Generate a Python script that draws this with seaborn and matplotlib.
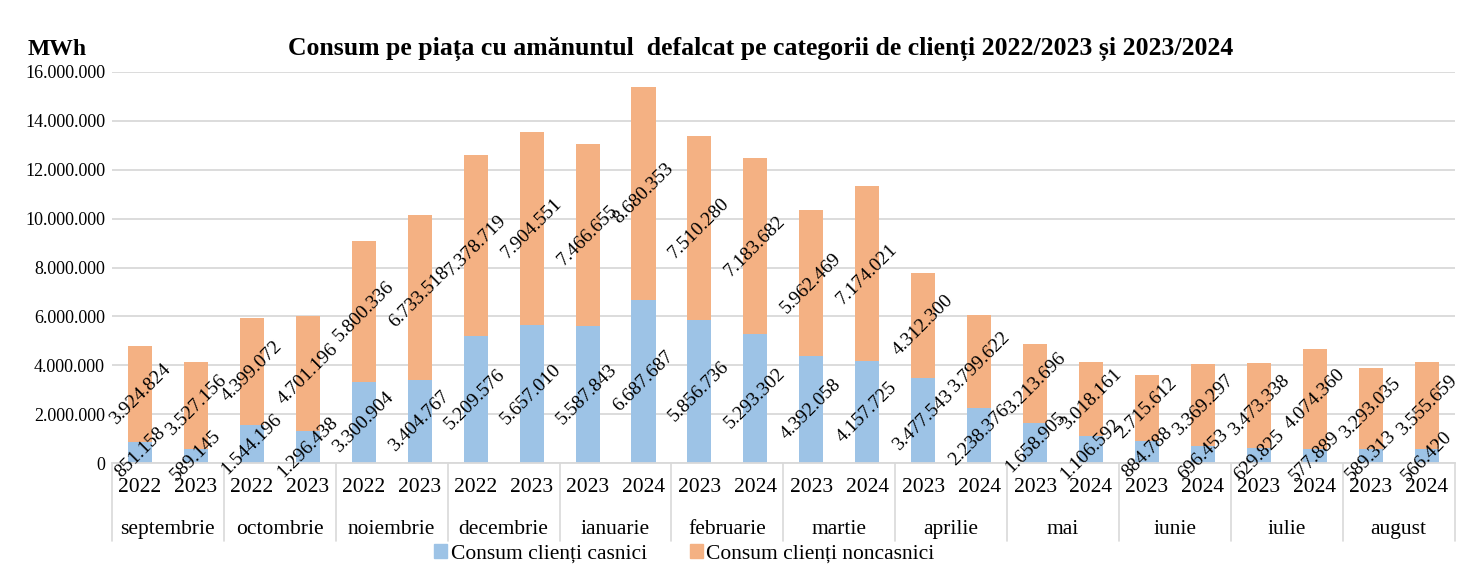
import pandas as pd
import matplotlib.pyplot as plt
import matplotlib.transforms as mtransforms
from matplotlib.patches import Patch
import seaborn as sns

# Data (MWh)
months = ["septembrie", "octombrie", "noiembrie", "decembrie", "ianuarie", "februarie",
          "martie", "aprilie", "mai", "iunie", "iulie", "august"]
years = ["2022", "2023", "2022", "2023", "2022", "2023", "2022", "2023",
         "2023", "2024", "2023", "2024", "2023", "2024", "2023", "2024",
         "2023", "2024", "2023", "2024", "2023", "2024", "2023", "2024"]
casnici = [851158, 589145, 1544196, 1296438, 3300904, 3404767, 5209576, 5657010,
           5587843, 6687687, 5856736, 5293302, 4392058, 4157725, 3477543, 2238376,
           1658905, 1106592, 884788, 696453, 629825, 577889, 589313, 566420]
noncasnici = [3924824, 3527156, 4399072, 4701196, 5800336, 6733518, 7378719, 7904551,
              7466655, 8680353, 7510280, 7183682, 5962469, 7174021, 4312300, 3799622,
              3213696, 3018161, 2715612, 3369297, 3473338, 4074360, 3293035, 3555659]

blue = "#9DC3E6"
orange = "#F4B183"
grid_col = "#D9D9D9"

slots = [f"{months[i // 2]} {years[i]}" for i in range(len(years))]
df = pd.DataFrame({"slot": slots, "casnici": casnici, "noncasnici": noncasnici})
df["total"] = df["casnici"] + df["noncasnici"]

sns.set_theme(style="white")
plt.rcParams["font.family"] = ["Liberation Serif", "DejaVu Serif"]
plt.rcParams["text.color"] = "black"
plt.rcParams["xtick.color"] = "black"
plt.rcParams["ytick.color"] = "black"

fig, ax = plt.subplots(figsize=(14.62, 5.71), dpi=100)
fig.subplots_adjust(left=0.0766, right=0.995, bottom=0.189, top=0.874)

# stacked bars: total in orange, household on top in blue
sns.barplot(data=df, x="slot", y="total", color=orange, saturation=1, width=0.43,
            linewidth=0, ax=ax)
sns.barplot(data=df, x="slot", y="casnici", color=blue, saturation=1, width=0.43,
            linewidth=0, ax=ax)

ax.set_ylim(0, 16_000_000)
ax.set_xlim(-0.5, len(slots) - 0.5)
ax.set_yticks(range(0, 16_000_001, 2_000_000))
ax.set_yticklabels([f"{v:,}".replace(",", ".") for v in range(0, 16_000_001, 2_000_000)],
                   fontsize=13)
ax.yaxis.grid(True, color=grid_col, lw=1.3)
ax.set_axisbelow(True)
for s in ["top", "right", "left"]:
    ax.spines[s].set_visible(False)
ax.spines["bottom"].set_color(grid_col)
ax.spines["bottom"].set_linewidth(1.3)
ax.set_xlabel("")
ax.set_ylabel("")
ax.set_xticks(range(len(slots)))
ax.set_xticklabels(years, fontsize=15.5)
ax.tick_params(axis="x", length=0, pad=11)
ax.tick_params(axis="y", length=0, pad=5)

# month row and group separators
trans = mtransforms.blended_transform_factory(ax.transData, ax.transAxes)
for k, m in enumerate(months):
    ax.text(2 * k + 0.5, -0.17, m, transform=trans, ha="center", va="center", fontsize=15.5)
for k in range(len(months) + 1):
    x = 2 * k - 0.5
    ax.plot([x, x], [0, -0.2], transform=trans, color=grid_col, lw=1.2, clip_on=False)

# data labels
for i, (c, n) in enumerate(zip(casnici, noncasnici)):
    ax.text(i, c / 2, f"{c:,}".replace(",", "."), rotation=45, ha="center", va="center",
            rotation_mode="anchor", fontsize=14, clip_on=False)
    ax.text(i, c + n / 2, f"{n:,}".replace(",", "."), rotation=45, ha="center", va="center",
            rotation_mode="anchor", fontsize=14, clip_on=False)

fig.text(0.52, 0.914,
         "Consum pe piața cu amănuntul  defalcat pe categorii de clienți 2022/2023 și 2023/2024",
         ha="center", va="center", fontsize=18.5, fontweight="bold")
fig.text(0.039, 0.914, "MWh", ha="center", va="center", fontsize=17, fontweight="bold")

handles = [Patch(color=blue, label="Consum clienți casnici"),
           Patch(color=orange, label="Consum clienți noncasnici")]
fig.legend(handles=handles, loc="center", bbox_to_anchor=(0.468, 0.03), ncol=2,
           frameon=False, fontsize=15.5, handlelength=0.6, handleheight=0.6,
           handletextpad=0.15, columnspacing=2.0)

plt.savefig("out.png")
